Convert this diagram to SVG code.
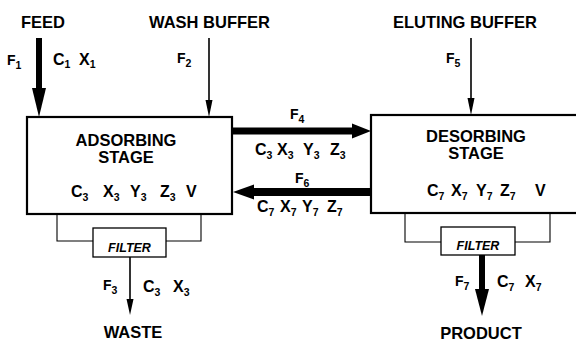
<svg xmlns="http://www.w3.org/2000/svg" width="576" height="343" viewBox="0 0 576 343">
<style>
text{font-family:"Liberation Sans",Arial,Helvetica,sans-serif;font-weight:bold;fill:#000}
.b{font-size:16.5px}
.v{font-size:16px}
.f{font-size:14px}
.s{font-size:10.5px}
.fl{font-size:12.5px;font-style:italic}
.box{fill:#fff;stroke:#000;stroke-width:2.2}
.flt{fill:#fff;stroke:#000;stroke-width:1.3}
.br{fill:none;stroke:#000;stroke-width:1.1}
.thin{stroke:#000;stroke-width:1.6}
.thk{stroke:#000;stroke-width:6}
</style>
<rect width="576" height="343" fill="#fff"/>
<g id="connectors">
<line class="thk" x1="39" y1="38" x2="39" y2="92"/>
<polygon points="32,88 46,88 39,117"/>
<line class="thin" x1="209" y1="38" x2="209" y2="104"/>
<polygon points="205.5,100 212.5,100 209,117"/>
<line class="thin" x1="471" y1="38" x2="471" y2="102"/>
<polygon points="467.5,98 474.5,98 471,115"/>
<line stroke="#000" stroke-width="7" x1="232" y1="131" x2="354" y2="131"/>
<polygon points="352,123.5 352,138.5 371,131"/>
<line stroke="#000" stroke-width="8" x1="371" y1="192" x2="252" y2="192"/>
<polygon points="254,184.5 254,199.5 233,192"/>
<line class="thin" x1="130" y1="257" x2="130" y2="302"/>
<polygon points="126.5,299 133.5,299 130,315"/>
<line class="thk" x1="482" y1="255" x2="482" y2="292"/>
<polygon points="475,289 489,289 482,316"/>
</g>
<g id="adsorbing">
<rect class="box" x="27" y="117" width="205" height="97"/>
<text class="b" x="126" y="146" text-anchor="middle">ADSORBING</text>
<text class="b" x="126" y="163" text-anchor="middle">STAGE</text>
<text class="v" x="71" y="197">C<tspan class="s" dy="4">3</tspan></text>
<text class="v" x="103" y="197">X<tspan class="s" dy="4">3</tspan></text>
<text class="v" x="130" y="197">Y<tspan class="s" dy="4">3</tspan></text>
<text class="v" x="160" y="197">Z<tspan class="s" dy="4">3</tspan></text>
<text class="v" x="186" y="197">V</text>
</g>
<g id="filter-left">
<path class="br" d="M57,214V241H93M201,214V241H166"/>
<rect class="flt" x="93" y="228" width="73" height="29"/>
<text class="fl" x="129.5" y="252" text-anchor="middle">FILTER</text>
</g>
<g id="desorbing">
<rect class="box" x="371" y="115" width="212" height="98"/>
<text class="b" x="476" y="142" text-anchor="middle">DESORBING</text>
<text class="b" x="476" y="159" text-anchor="middle">STAGE</text>
<text class="v" x="427" y="196">C<tspan class="s" dy="4">7</tspan></text>
<text class="v" x="451" y="196">X<tspan class="s" dy="4">7</tspan></text>
<text class="v" x="476" y="196">Y<tspan class="s" dy="4">7</tspan></text>
<text class="v" x="500" y="196">Z<tspan class="s" dy="4">7</tspan></text>
<text class="v" x="535" y="196">V</text>
</g>
<g id="filter-right">
<path class="br" d="M405,213V242H441M550,213V242H515"/>
<rect class="flt" x="441" y="227" width="74" height="28"/>
<text class="fl" x="478" y="250" text-anchor="middle">FILTER</text>
</g>
<g id="feed">
<text class="b" x="43" y="28" text-anchor="middle">FEED</text>
<text class="f" x="7" y="65">F<tspan class="s" dy="4">1</tspan></text>
<text class="v" x="53" y="65">C<tspan class="s" dy="3">1</tspan></text>
<text class="v" x="79" y="65">X<tspan class="s" dy="3">1</tspan></text>
</g>
<g id="wash">
<text class="b" x="209.5" y="28" text-anchor="middle">WASH BUFFER</text>
<text class="f" x="177" y="63">F<tspan class="s" dy="4">2</tspan></text>
</g>
<g id="eluting">
<text class="b" x="465" y="28" text-anchor="middle">ELUTING BUFFER</text>
<text class="f" x="446" y="63">F<tspan class="s" dy="4">5</tspan></text>
</g>
<g id="stream4">
<text class="f" x="290" y="119">F<tspan class="s" dy="4">4</tspan></text>
<text class="v" x="255" y="155">C<tspan class="s" dy="4">3</tspan></text>
<text class="v" x="277" y="155">X<tspan class="s" dy="4">3</tspan></text>
<text class="v" x="303" y="155">Y<tspan class="s" dy="4">3</tspan></text>
<text class="v" x="330" y="155">Z<tspan class="s" dy="4">3</tspan></text>
</g>
<g id="stream6">
<text class="f" x="295" y="183">F<tspan class="s" dy="4">6</tspan></text>
<text class="v" x="257" y="212">C<tspan class="s" dy="4">7</tspan></text>
<text class="v" x="280" y="212">X<tspan class="s" dy="4">7</tspan></text>
<text class="v" x="302" y="212">Y<tspan class="s" dy="4">7</tspan></text>
<text class="v" x="327" y="212">Z<tspan class="s" dy="4">7</tspan></text>
</g>
<g id="waste">
<text class="f" x="103" y="290">F<tspan class="s" dy="4">3</tspan></text>
<text class="v" x="143" y="292">C<tspan class="s" dy="4">3</tspan></text>
<text class="v" x="173" y="292">X<tspan class="s" dy="4">3</tspan></text>
<text class="b" x="133" y="338" text-anchor="middle">WASTE</text>
</g>
<g id="product">
<text class="f" x="455" y="286">F<tspan class="s" dy="4">7</tspan></text>
<text class="v" x="497" y="287">C<tspan class="s" dy="4">7</tspan></text>
<text class="v" x="525" y="287">X<tspan class="s" dy="4">7</tspan></text>
<text class="b" x="481" y="339" text-anchor="middle">PRODUCT</text>
</g>
</svg>
